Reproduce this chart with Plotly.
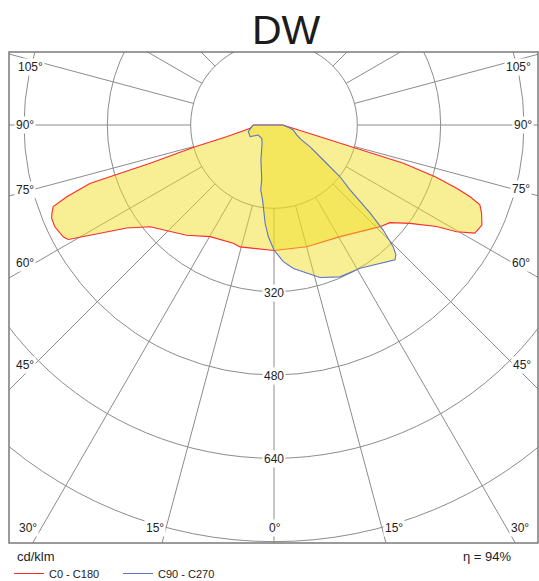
import numpy as np
import plotly.graph_objects as go

# ---------------- data (cd/klm vs gamma angle in degrees) ----------------
title_text = "DW"
unit_text = "cd/klm"
eta_text = "η = 94%"
series_names = ["C0 - C180", "C90 - C270"]

# C180 half-plane (left side of diagram)
c180_gamma = [0, 3.3, 9.5, 15.6, 19, 29.8, 38.4, 46.5, 50.6, 55, 58.1, 60.9, 62, 65.1,
              67.2, 68.3, 69.7, 70.9, 72.4, 72.6, 72.8, 74.6, 76.1, 82.2, 90]
c180_I = [240, 240, 240, 243, 240, 247, 270, 293, 308, 345, 394, 452, 458, 464,
          463, 459, 452, 421, 371, 320, 249, 157, 94, 46, 40]
# C0 half-plane (right side)
c0_gamma = [0, 15, 30.6, 46.2, 49.9, 54.1, 58, 59.7, 61.7, 64.3, 67, 68.8, 69.9,
            70.9, 72.2, 73.5, 73.9, 74.2, 75.4, 80.8, 90]
c0_I = [241, 242, 249, 282, 291, 322, 368, 406, 438, 443, 433, 424, 401,
        371, 325, 259, 192, 158, 91, 31, 17]
# C270 half-plane (left side)
c270_gamma = [0, 2.9, 5.2, 8.6, 11.6, 12.6, 20.4, 26.2, 33.7, 42.8, 57.5, 64, 75.4, 90]
c270_I = [240, 215, 189, 146, 127, 108, 72, 54, 41, 35, 36, 51, 51, 40]
# C90 half-plane (right side)
c90_gamma = [0, 3.9, 7.7, 16.8, 23.5, 31, 37.5, 41.9, 43.2, 44.4, 46.1, 47.5, 49.5,
             51.9, 54.6, 58.9, 61.6, 66.2, 75.5, 79, 90]
c90_I = [240, 263, 278, 306, 318, 321, 335, 348, 342, 327, 291, 250, 192,
         161, 116, 81, 60, 48, 38, 31, 17]

ring_values = [160, 320, 480, 640, 800]
ring_label_values = [320, 480, 640]
spoke_step = 15

# ---------------- geometry ----------------
W, H = 539, 581
ml, mr, mt, mb = 9, 1, 52, 38
cx, cy = 274, 125          # pixel position of the lamp centre
k = 160 / 83.33            # cd/klm per pixel
PW, PH = W - ml - mr, H - mt - mb

xr = [(ml - cx) * k, (W - mr - cx) * k]
yr = [(cy - (H - mb)) * k, (cy - mt) * k]


def px2d(px, py):
    return (px - cx) * k, (cy - py) * k


def px2paper(px, py):
    return (px - ml) / PW, (H - mb - py) / PH


def half_plane(gam, inten, side):
    g = np.radians(np.asarray(gam, float))
    r = np.asarray(inten, float)
    return side * r * np.sin(g), -r * np.cos(g)


def curve(left_g, left_i, right_g, right_i):
    lx, ly = half_plane(left_g, left_i, -1)
    rx, ry = half_plane(right_g, right_i, 1)
    x = np.concatenate([lx[::-1], rx, [lx[-1]]])
    y = np.concatenate([ly[::-1], ry, [ly[-1]]])
    return x, y


fill_col = "rgba(240,220,30,0.47)"
red = "#ff2a2a"
blue = "#5f74c4"
grid_col = "#8c8c8c"
font_fam = "Liberation Sans, Arial, sans-serif"

fig = go.Figure()

x1, y1 = curve(c180_gamma, c180_I, c0_gamma, c0_I)
fig.add_trace(go.Scatter(x=x1, y=y1, mode="lines", fill="toself", fillcolor=fill_col,
                         line=dict(color=red, width=1.1), showlegend=False, hoverinfo="skip"))
x2, y2 = curve(c270_gamma, c270_I, c90_gamma, c90_I)
fig.add_trace(go.Scatter(x=x2, y=y2, mode="lines", fill="toself", fillcolor=fill_col,
                         line=dict(color=blue, width=1.1), showlegend=False, hoverinfo="skip"))

# legend entries
fig.add_trace(go.Scatter(x=[None], y=[None], mode="lines", name=series_names[0],
                         line=dict(color=red, width=1)))
fig.add_trace(go.Scatter(x=[None], y=[None], mode="lines", name=series_names[1],
                         line=dict(color=blue, width=1)))

shapes = []
for r in ring_values:
    shapes.append(dict(type="circle", xref="x", yref="y", x0=-r, x1=r, y0=-r, y1=r,
                       line=dict(color=grid_col, width=1), layer="below"))
for a in range(0, 360, spoke_step):
    t = np.radians(a)
    shapes.append(dict(type="line", xref="x", yref="y",
                       x0=ring_values[0] * np.sin(t), y0=-ring_values[0] * np.cos(t),
                       x1=1500 * np.sin(t), y1=-1500 * np.cos(t),
                       line=dict(color=grid_col, width=1), layer="below"))
shapes.append(dict(type="rect", xref="paper", yref="paper", x0=0, x1=1, y0=0, y1=1,
                   line=dict(color="#7a7a7a", width=1.5)))

ann = []


def label(text, px, py, size=12):
    x, y = px2d(px, py)
    ann.append(dict(x=x, y=y, xref="x", yref="y", text=text, showarrow=False,
                    font=dict(family=font_fam, size=size, color="#222"),
                    bgcolor="white", borderpad=1, xanchor="center", yanchor="middle"))


# angle labels (left, right)
ang_pos = {105: ((30, 67), (518, 67)), 90: ((25, 125), (523, 125)),
           75: ((25, 190), (521, 189)), 60: ((25, 263), (521, 263)),
           45: ((25, 365), (522, 365)), 30: ((28, 528), (520, 528)),
           15: ((155, 528), (394, 528))}
for a, (lp, rp) in ang_pos.items():
    label(f"{a}°", *lp)
    label(f"{a}°", *rp)
label("0°", 275, 528)
for v in ring_label_values:
    label(str(v), cx, cy + v / k + 1, size=12)

tx, ty = px2paper(286, 30)
ann.append(dict(x=tx, y=ty, xref="paper", yref="paper",
                text=title_text, showarrow=False, xanchor="center", yanchor="middle",
                font=dict(family=font_fam, size=41, color="#1c1c1c")))
ux, uy = px2paper(15, 556)
ann.append(dict(x=ux, y=uy, xref="paper", yref="paper",
                text=unit_text, showarrow=False, xanchor="left", yanchor="middle",
                font=dict(family=font_fam, size=13, color="#222")))
ex, ey = px2paper(514, 556)
ann.append(dict(x=ex, y=ey, xref="paper", yref="paper",
                text=eta_text, showarrow=False, xanchor="right", yanchor="middle",
                font=dict(family=font_fam, size=13, color="#222")))

lx, ly = px2paper(ml, 559)
fig.update_layout(
    width=W, height=H, margin=dict(l=ml, r=mr, t=mt, b=mb, autoexpand=False),
    paper_bgcolor="white", plot_bgcolor="white",
    xaxis=dict(range=xr, visible=False, fixedrange=True),
    yaxis=dict(range=yr, visible=False, fixedrange=True),
    shapes=shapes, annotations=ann,
    showlegend=True,
    legend=dict(orientation="h", x=lx, xanchor="left", y=ly, yanchor="top",
                font=dict(family=font_fam, size=11, color="#222"), itemwidth=30,
                entrywidth=64, bgcolor="rgba(0,0,0,0)", tracegroupgap=0),
)

fig.write_html("out.html", config={"displayModeBar": False},
               post_script="document.body.style.margin='0';document.body.style.overflow='hidden';")
